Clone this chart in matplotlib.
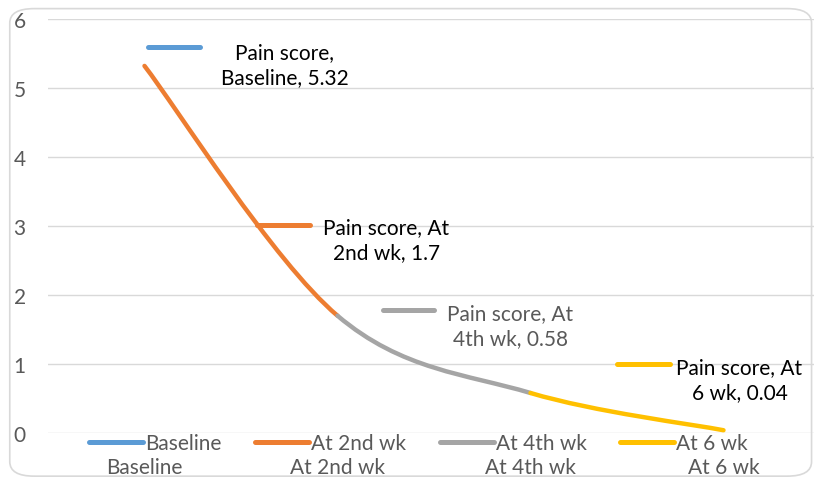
import matplotlib.pyplot as plt
from matplotlib.path import Path
from matplotlib.patches import PathPatch, FancyBboxPatch
from matplotlib.lines import Line2D
from matplotlib.transforms import offset_copy, IdentityTransform

plt.rcParams['font.family'] = ['Lato', 'DejaVu Sans']

# chart data
series_name = 'Pain score'
categories = ['Baseline', 'At 2nd wk', 'At 4th wk', 'At 6 wk']
pain_scores = [5.32, 1.7, 0.58, 0.04]
point_colors = ['#5B9BD5', '#ED7D31', '#A5A5A5', '#FFC000']
label_colors = ['black', 'black', '#595959', 'black']

# label placement relative to each point, in pixels: key line x-range, key dy, text dx, text dy
label_offsets = [
    ((3, 55), 19, 140, 1),
    ((-81, -28), 91, 49, 76),
    ((-148, -97), 83, -20, 67),
    ((-107, -54), 66, 16, 51),
]

fig = plt.figure(figsize=(8.14, 4.81), dpi=100)
fig.patches.append(FancyBboxPatch((0.012, 0.008), 0.985, 0.972,
                                  boxstyle='round,pad=0,rounding_size=0.03',
                                  transform=fig.transFigure, facecolor='white',
                                  edgecolor='#D9D9D9', linewidth=1.2, zorder=-1))
ax = fig.add_axes([48 / 814, 47 / 481, 772 / 814, 414 / 481])
ax.set_facecolor('none')
ax.set_xlim(-0.5, 3.5)
ax.set_ylim(0, 6)

xs = list(range(len(categories)))
pts = list(zip(xs, pain_scores))


# smoothed line, one cubic bezier per segment, coloured by the end point
def ctrl(i):
    p_prev = pts[max(i - 1, 0)]
    p_next = pts[min(i + 1, len(pts) - 1)]
    return ((p_next[0] - p_prev[0]) / 6, (p_next[1] - p_prev[1]) / 6)


for i in range(len(pts) - 1):
    p0, p1 = pts[i], pts[i + 1]
    d0, d1 = ctrl(i), ctrl(i + 1)
    c1 = (p0[0] + d0[0], p0[1] + d0[1])
    c2 = (p1[0] - d1[0], p1[1] - d1[1])
    path = Path([p0, c1, c2, p1], [Path.MOVETO, Path.CURVE4, Path.CURVE4, Path.CURVE4])
    ax.add_patch(PathPatch(path, facecolor='none', edgecolor=point_colors[i + 1],
                           linewidth=3.2, capstyle='round', zorder=3))

# data labels with a small legend key
for i, (x, y) in enumerate(pts):
    (k0, k1), kdy, tdx, tdy = label_offsets[i]
    px, py = ax.transData.transform((x, y))
    fig.add_artist(Line2D([px + k0, px + k1], [py + kdy, py + kdy],
                          transform=IdentityTransform(), color=point_colors[i],
                          linewidth=3.6, solid_capstyle='round', zorder=4))
    if i == 0:
        lines = f'{series_name},\n{categories[i]}, {pain_scores[i]:g}'
    else:
        cat_words = categories[i].split(' ')
        lines = f'{series_name}, {cat_words[0]}\n{" ".join(cat_words[1:])}, {pain_scores[i]:g}'
    ax.text(x, y, lines, transform=offset_copy(ax.transData, fig=fig, x=tdx, y=tdy, units='dots'),
            ha='center', va='center', fontsize=15, color=label_colors[i],
            linespacing=1.3, zorder=5)

ax.set_yticks(range(7))
ax.set_xticks(xs)
ax.set_xticklabels(categories)
ax.grid(axis='y', color='#D9D9D9', linewidth=1)
ax.set_axisbelow(True)
for s in ax.spines.values():
    s.set_visible(False)
ax.tick_params(axis='both', length=0, labelsize=15, labelcolor='#595959')
ax.tick_params(axis='x', pad=17)
ax.tick_params(axis='y', pad=16)

handles = [Line2D([], [], color=c, linewidth=3.6, solid_capstyle='round') for c in point_colors]
ax.legend(handles, categories, loc='upper center', bbox_to_anchor=(0.48, 0.0), ncol=4,
          frameon=False, fontsize=15, labelcolor='#595959', handlelength=2.6,
          handletextpad=0.1, columnspacing=1.6, borderpad=0, borderaxespad=0)

fig.savefig('out.png', dpi=100)
